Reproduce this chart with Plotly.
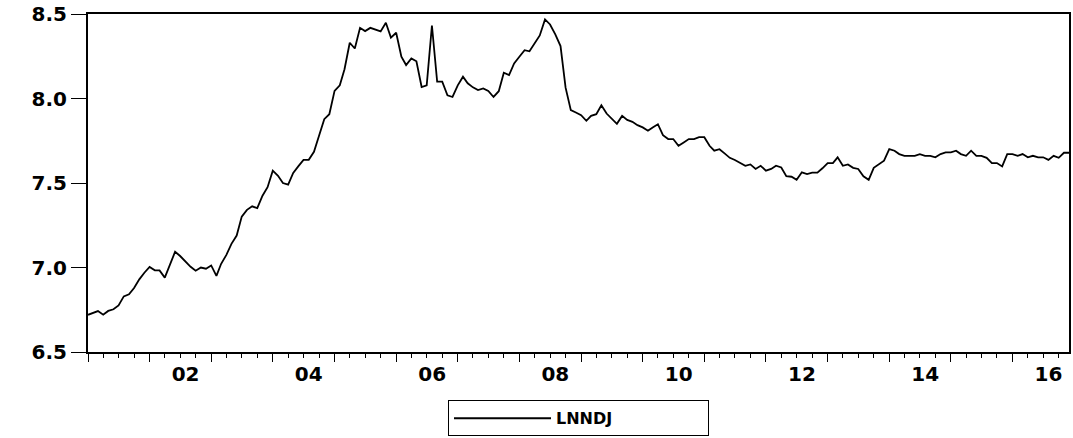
import pandas as pd
import plotly.graph_objects as go

# Monthly log index level, 2001M01 - 2016M12
series_name = "LNNDJ"
start_month = "2001-01-01"
lnndj = [
    6.720, 6.730, 6.742, 6.721, 6.743, 6.753, 6.776, 6.829, 6.841, 6.879,
    6.930, 6.969, 7.003, 6.983, 6.983, 6.940, 7.016, 7.093, 7.068, 7.036,
    7.004, 6.981, 7.000, 6.993, 7.012, 6.950, 7.022, 7.075, 7.140, 7.189,
    7.301, 7.341, 7.362, 7.351, 7.425, 7.475, 7.573, 7.543, 7.500, 7.490,
    7.560, 7.600, 7.637, 7.637, 7.685, 7.779, 7.878, 7.907, 8.045, 8.078,
    8.173, 8.330, 8.296, 8.418, 8.399, 8.418, 8.409, 8.397, 8.448, 8.360,
    8.389, 8.247, 8.198, 8.237, 8.220, 8.068, 8.078, 8.432, 8.100, 8.100,
    8.019, 8.009, 8.078, 8.129, 8.090, 8.066, 8.050, 8.060, 8.045, 8.009,
    8.043, 8.153, 8.139, 8.208, 8.247, 8.286, 8.279, 8.324, 8.373, 8.468,
    8.438, 8.379, 8.310, 8.064, 7.931, 7.917, 7.901, 7.868, 7.897, 7.907,
    7.960, 7.911, 7.878, 7.850, 7.897, 7.873, 7.862, 7.842, 7.829, 7.809,
    7.829, 7.848, 7.783, 7.760, 7.760, 7.720, 7.740, 7.760, 7.760, 7.771,
    7.771, 7.720, 7.691, 7.700, 7.675, 7.649, 7.636, 7.618, 7.602, 7.610,
    7.583, 7.602, 7.573, 7.583, 7.602, 7.592, 7.540, 7.537, 7.519, 7.563,
    7.553, 7.561, 7.561, 7.587, 7.618, 7.618, 7.652, 7.602, 7.610, 7.590,
    7.583, 7.540, 7.519, 7.590, 7.612, 7.632, 7.700, 7.691, 7.671, 7.661,
    7.661, 7.661, 7.671, 7.661, 7.661, 7.652, 7.671, 7.681, 7.681, 7.691,
    7.671, 7.661, 7.691, 7.661, 7.661, 7.649, 7.618, 7.618, 7.598, 7.671,
    7.671, 7.661, 7.671, 7.652, 7.661, 7.652, 7.652, 7.637, 7.661, 7.649,
    7.679, 7.679,
]

y_ticks = [6.5, 7.0, 7.5, 8.0, 8.5]
y_tick_text = ["6.5", "7.0", "7.5", "8.0", "8.5"]
# two-digit year labels, shown on every other year tick
year_ticks = list(range(2001, 2017))
year_labels = ["", "02", "", "04", "", "06", "", "08",
               "", "10", "", "12", "", "14", "", "16"]

months = pd.date_range(start_month, periods=len(lnndj), freq="MS")
x_range = [months[0], months[-1]]
year_starts = [f"{y}-01-01" for y in year_ticks]

tick_font = dict(family="DejaVu Sans", size=20, color="black", weight="bold")

fig = go.Figure()
fig.add_trace(go.Scatter(
    x=months, y=lnndj, mode="lines", name=series_name,
    line=dict(color="black", width=1.8),
))

fig.update_layout(
    width=1073, height=438,
    margin=dict(l=88, r=2, t=14, b=84),
    paper_bgcolor="white", plot_bgcolor="white",
    showlegend=True,
    legend=dict(
        x=0.5, xanchor="center", y=-0.143, yanchor="top",
        orientation="h", bordercolor="black", borderwidth=1,
        font=dict(family="DejaVu Sans", size=16, color="black", weight="bold"),
        itemwidth=97, entrywidth=147, bgcolor="white",
    ),
    xaxis=dict(
        type="date", range=x_range,
        showline=True, linecolor="black", linewidth=2, mirror=True,
        showgrid=False, zeroline=False,
        tickmode="array", tickvals=year_starts, ticktext=year_labels,
        ticks="outside", ticklen=8, tickwidth=1, tickcolor="black",
        ticklabelshift=36, ticklabelstandoff=-5, tickfont=tick_font,
        minor=dict(dtick="M3", tick0=start_month, ticks="outside",
                   ticklen=4, tickwidth=1, tickcolor="black", showgrid=False),
    ),
    yaxis=dict(
        range=[6.5, 8.5],
        showline=True, linecolor="black", linewidth=2, mirror=True,
        showgrid=False, zeroline=False,
        tickmode="array", tickvals=y_ticks, ticktext=y_tick_text,
        ticks="outside", ticklen=15, tickwidth=1, tickcolor="black",
        tickfont=tick_font,
    ),
)

fig.write_html("out.html")
